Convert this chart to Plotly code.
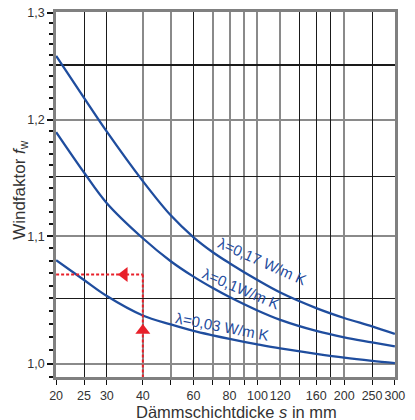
import math
import plotly.graph_objects as go

# ---- data ----
s_mm = [20, 25, 30, 40, 50, 60, 70, 80, 100, 120, 160, 200, 250, 300]
fw_017 = [1.2589, 1.2200, 1.1895, 1.1463, 1.1173, 1.0991, 1.0869, 1.0780, 1.0645, 1.0546, 1.0424, 1.0347, 1.0282, 1.0224]
fw_010 = [1.1891, 1.1537, 1.1275, 1.0983, 1.0796, 1.0672, 1.0581, 1.0510, 1.0405, 1.0332, 1.0247, 1.0198, 1.0160, 1.0129]
fw_003 = [1.0804, 1.0645, 1.0518, 1.0366, 1.0297, 1.0247, 1.0213, 1.0186, 1.0145, 1.0114, 1.0073, 1.0044, 1.0020, 1.0003]

labels = ["λ=0,17 W/m K", "λ=0,1W/m K", "λ=0,03 W/m K"]
label_x = [104.5, 87.5, 75.4]
label_y = [1.0795, 1.0575, 1.0282]
label_angle = [24, 23, 11]

example_x = [20, 40]
example_y = [1.069, 0.99]
arrow_up = (40, 1.0250)
arrow_left = (34.5, 1.069)

x_ticks = [20, 25, 30, 40, 60, 80, 100, 120, 160, 200, 250, 300]
x_ticktext = ["20", "25", "30", "40", "60", "80", "100", "120", "160", "200", "250", "300"]
x_minor = [50, 70, 90, 140, 180]
x_grid_gray = [40, 50, 70, 80, 90, 100, 120, 200]
x_grid_black = [25, 30, 60, 140, 160, 180, 250]
y_ticks = [1.0, 1.1, 1.2, 1.3]
y_ticktext = ["1,0", "1,1", "1,2", "1,3"]
y_minor = [round(0.99 + 0.01 * i, 2) for i in range(32)]
y_grid_gray = [1.0, 1.1, 1.2]
y_grid_black = [1.05, 1.15]
y_grid_black_thick = [1.25]

x_title = "Dämmschichtdicke <i>s</i> in mm"
y_title = "Windfaktor <i>f</i><sub>w</sub>"

XR = [math.log10(20) - 0.0004, math.log10(300) + 0.0004]
YR = [math.log10(0.99), math.log10(1.3) + 0.0003]

BLUE = "#1f4d9e"
RED = "#e8202a"
FONT = "Liberation Sans, Arial, sans-serif"

fig = go.Figure()
for yv in (fw_017, fw_010, fw_003):
    fig.add_trace(go.Scatter(x=s_mm, y=yv, mode="lines",
                             line=dict(color=BLUE, width=2.3, shape="spline", smoothing=1.0),
                             showlegend=False, hoverinfo="skip"))

# red example lines
fig.add_trace(go.Scatter(x=[example_x[0], example_x[1]], y=[example_y[0], example_y[0]], mode="lines",
                         line=dict(color=RED, width=2, dash="3px,2px"), showlegend=False, hoverinfo="skip"))
fig.add_trace(go.Scatter(x=[example_x[1], example_x[1]], y=[example_y[0], example_y[1]], mode="lines",
                         line=dict(color=RED, width=2, dash="3px,2px"), showlegend=False, hoverinfo="skip"))
fig.add_trace(go.Scatter(x=[arrow_up[0]], y=[arrow_up[1]], mode="markers",
                         marker=dict(symbol="triangle-up", size=13, color=RED), showlegend=False, hoverinfo="skip"))
fig.add_trace(go.Scatter(x=[arrow_left[0]], y=[arrow_left[1]], mode="markers",
                         marker=dict(symbol="triangle-left", size=13, color=RED), showlegend=False, hoverinfo="skip"))

# dummy traces for overlay grid axes
for xa, ya in (("x2", "y2"), ("x3", "y3"), ("x3", "y4")):
    fig.add_trace(go.Scatter(x=[20], y=[1.0], xaxis=xa, yaxis=ya, mode="markers",
                             marker=dict(opacity=0), showlegend=False, hoverinfo="skip"))

for t, lx, ly, ang in zip(labels, label_x, label_y, label_angle):
    fig.add_annotation(x=math.log10(lx), y=math.log10(ly), text=t, showarrow=False, textangle=ang,
                       font=dict(family=FONT, size=15, color=BLUE))

fig.add_annotation(xref="paper", yref="paper", x=0.531, y=-0.096, text=x_title, showarrow=False,
                   xanchor="center", yanchor="middle", borderpad=0,
                   font=dict(family=FONT, size=16.5, color="#333"))
fig.add_annotation(xref="paper", yref="paper", x=-0.104, y=0.512, text=y_title, showarrow=False,
                   textangle=-90, xanchor="center", yanchor="middle", borderpad=0,
                   font=dict(family=FONT, size=17, color="#333"))

grid_common = dict(type="log", showticklabels=False, ticks="", showline=False, zeroline=False)
fig.update_layout(
    width=415, height=420,
    margin=dict(l=56, r=20, t=12, b=43),
    plot_bgcolor="white", paper_bgcolor="white",
    font=dict(family=FONT, color="#333333"),
    xaxis=dict(type="log", range=XR, tickvals=x_ticks, ticktext=x_ticktext, showgrid=False,
               tickangle=0, automargin=False,
               ticks="outside", ticklen=5, tickwidth=1, tickcolor="#111",
               minor=dict(tickvals=x_minor, ticks="outside", ticklen=5, tickwidth=1, tickcolor="#111", showgrid=False),
               showline=True, linecolor="#808080", linewidth=2.5, mirror=True,
               tickfont=dict(size=12.5, color="#333")),
    yaxis=dict(type="log", range=YR, tickvals=y_ticks, ticktext=y_ticktext, showgrid=False,
               automargin=False,
               ticks="outside", ticklen=6, tickwidth=1.5, tickcolor="#111",
               minor=dict(tickvals=y_minor, ticks="outside", ticklen=4, tickwidth=1.5, tickcolor="#111", showgrid=False),
               showline=True, linecolor="#808080", linewidth=2.5, mirror=True,
               tickfont=dict(size=12.5, color="#333")),
    xaxis2=dict(overlaying="x", range=XR, tickvals=x_grid_gray, showgrid=True, gridcolor="#8a8a8a", gridwidth=2, **grid_common),
    yaxis2=dict(overlaying="y", range=YR, tickvals=y_grid_gray, showgrid=True, gridcolor="#8a8a8a", gridwidth=2, **grid_common),
    xaxis3=dict(overlaying="x", range=XR, tickvals=x_grid_black, showgrid=True, gridcolor="#1a1a1a", gridwidth=1.3, **grid_common),
    yaxis3=dict(overlaying="y", range=YR, tickvals=y_grid_black, showgrid=True, gridcolor="#1a1a1a", gridwidth=1.3, **grid_common),
    yaxis4=dict(overlaying="y", range=YR, tickvals=y_grid_black_thick, showgrid=True, gridcolor="#1a1a1a", gridwidth=2, **grid_common),
)

fig.write_html("out.html")
